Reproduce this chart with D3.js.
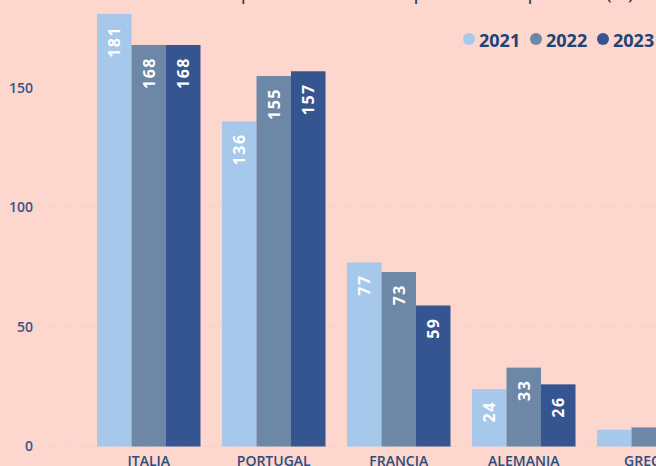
<!DOCTYPE html>
<html><head><meta charset="utf-8">
<script src="https://cdn.jsdelivr.net/npm/d3@7"></script>
<style>
html,body{margin:0;padding:0;background:#fdd6cd;overflow:hidden}
svg{display:block}
</style></head>
<body><svg id="c" width="656" height="466"></svg>
<script>
const categories = ["ITALIA","PORTUGAL","FRANCIA","ALEMANIA","GRECIA"];
const years = ["2021","2022","2023"];
const v2021 = [181,136,77,24,7];
const v2022 = [168,155,73,33,8];
const v2023 = [168,157,59,26,7];
const yTicks = [0,50,100,150];
const title = "Cuota de mercado por destino de los países en el período (%)";
const colors = ["#a5c8eb","#6d88a6","#34558f"];

const series = [v2021, v2022, v2023];
const W = 656, H = 466;
const svg = d3.select("#c");

const y = d3.scaleLinear().domain([0,150]).range([446.5,88]);
const x0 = d3.scaleBand().domain(categories).range([86.25, 86.25 + 125*categories.length]).paddingInner(0.172).paddingOuter(0.086);
const x1 = d3.scaleBand().domain(years).range([0, x0.bandwidth()]);

// title (mostly above the visible area, as in the reference)
svg.append("text").attr("x", 634).attr("y", -1).attr("text-anchor","end")
  .attr("font-family","Open Sans, sans-serif").attr("font-size",20).attr("fill","#333")
  .text(title);

// gridlines
svg.append("g").selectAll("line").data(yTicks).join("line")
  .attr("x1",45).attr("x2",W).attr("y1",d=>y(d)).attr("y2",d=>y(d))
  .attr("stroke","#e9c2b9").attr("stroke-width",1).attr("stroke-dasharray","1,4");

// y axis labels
svg.append("g").selectAll("text").data(yTicks).join("text")
  .attr("x",33).attr("y",d=>y(d)).attr("dy","0.35em").attr("text-anchor","end")
  .attr("font-family","Open Sans, sans-serif").attr("font-size",14).attr("font-weight",600)
  .attr("fill","#36578a").text(d=>d);

// bars
const rows = categories.map((c,i)=>({c, vals: years.map((yr,j)=>({yr, j, v: series[j][i]}))}));
const g = svg.append("g").selectAll("g").data(rows).join("g")
  .attr("transform", d=>`translate(${x0(d.c)},0)`);
g.selectAll("rect").data(d=>d.vals).join("rect")
  .attr("x", d=>x1(d.yr)).attr("width", x1.bandwidth())
  .attr("y", d=>y(d.v)).attr("height", d=>y(0)-y(d.v))
  .attr("fill", d=>colors[d.j]);
g.selectAll("text.lbl").data(d=>d.vals.filter(v=>y(0)-y(v.v) > 40)).join("text")
  .attr("class","lbl")
  .attr("transform", d=>`translate(${x1(d.yr)+x1.bandwidth()/2},${y(d.v)+12}) rotate(-90)`)
  .attr("text-anchor","end").attr("dy","0.36em")
  .attr("font-family","Open Sans, sans-serif").attr("font-size",16).attr("font-weight",700)
  .attr("letter-spacing","1.5px").attr("fill","#fff").text(d=>d.v);

// x labels
svg.append("g").selectAll("text").data(categories).join("text")
  .attr("x", d=>x0(d)+x0.bandwidth()/2).attr("y", 466)
  .attr("text-anchor","middle")
  .attr("font-family","Open Sans, sans-serif").attr("font-size",14).attr("font-weight",600)
  .attr("fill","#2d4d7e").text(d=>d);

// legend
const legX = [469, 536, 603];
const lg = svg.append("g").selectAll("g").data(years).join("g")
  .attr("transform",(d,i)=>`translate(${legX[i]},39)`);
lg.append("circle").attr("r",6).attr("fill",(d,i)=>colors[i]);
lg.append("text").attr("x",10).attr("y",8)
  .attr("font-family","Open Sans, sans-serif").attr("font-size",18).attr("font-weight",700)
  .attr("fill","#1b4478").text(d=>d);
</script></body></html>
